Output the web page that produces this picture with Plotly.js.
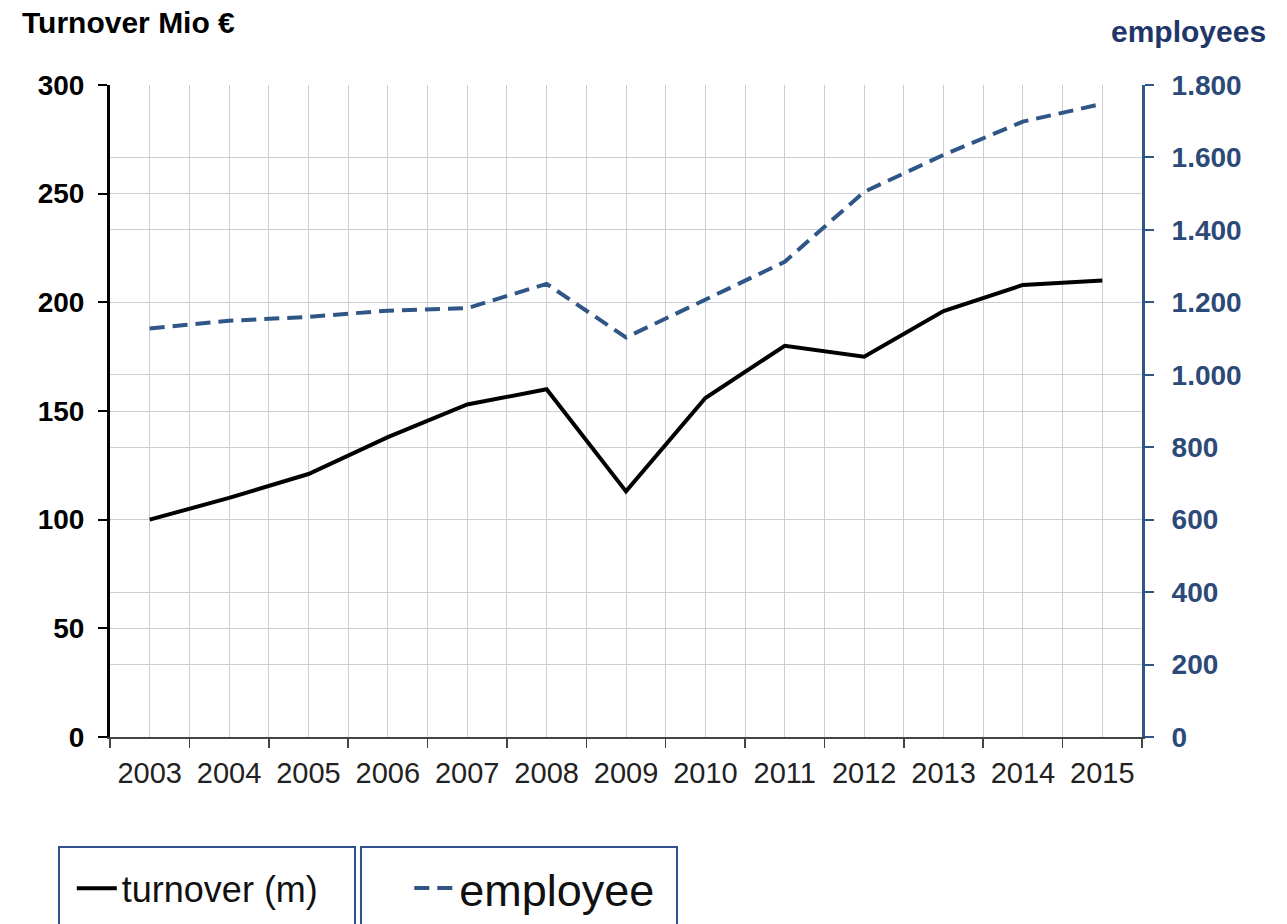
<!DOCTYPE html>
<html>
<head>
<meta charset="utf-8">
<script src="https://cdn.plot.ly/plotly-3.0.1.min.js"></script>
<style>html,body{margin:0;padding:0;background:#fff;}#chart{width:1287px;height:924px;}</style>
</head>
<body>
<div id="chart"></div>
<script>
const years = [2003,2004,2005,2006,2007,2008,2009,2010,2011,2012,2013,2014,2015];
const turnover = [100,110,121,138,153,160,113,156,180,175,196,208,210];
const employees = [1128,1149,1160,1177,1184,1251,1103,1206,1312,1505,1607,1699,1748];
const leftTicks = [0,50,100,150,200,250,300];
const rightTicks = [0,200,400,600,800,1000,1200,1400,1600,1800];

const navy = '#2c4a78';
const lineBlue = '#2f5687';
const gridCol = '#cdcdd6';
const font = 'Liberation Sans, Arial, sans-serif';

const traces = [
  {x: years, y: turnover, type: 'scatter', mode: 'lines', name: 'turnover (m)',
   line: {color: '#000', width: 4}, legend: 'legend', yaxis: 'y'},
  {x: years, y: employees, type: 'scatter', mode: 'lines', name: 'employee',
   line: {color: lineBlue, width: 4, dash: '15px,8px'}, legend: 'legend2', yaxis: 'y2'}
];

const layout = {
  width: 1287, height: 924,
  margin: {l: 110, r: 145, t: 85, b: 187, autoexpand: false},
  paper_bgcolor: '#fff', plot_bgcolor: '#fff',
  separators: ',.',
  font: {family: font, color: '#000'},
  showlegend: true,
  xaxis: {
    range: [2002.5, 2015.5], tickvals: years, ticktext: years.map(String),
    ticks: '', showgrid: true, gridcolor: gridCol, gridwidth: 1,
    showline: true, linecolor: '#444', linewidth: 1.5,
    tickfont: {family: font, size: 29, color: '#222'},
    ticklabelstandoff: 10,
    minor: {tick0: 2002.5, dtick: 1, ticks: 'outside', ticklen: 9, tickwidth: 1.5, tickcolor: '#444', showgrid: true, gridcolor: gridCol, gridwidth: 1},
    zeroline: false, fixedrange: true
  },
  yaxis: {
    range: [0, 300], tickvals: leftTicks, ticks: 'outside', ticklen: 9, tickwidth: 2, tickcolor: '#000',
    showline: true, linecolor: '#000', linewidth: 3,
    showgrid: true, gridcolor: gridCol, gridwidth: 1, zeroline: false,
    tickfont: {family: font, size: 28, color: '#000', weight: 'bold'},
    ticklabelstandoff: 8
  },
  yaxis2: {
    range: [0, 1800], tickvals: rightTicks, tickformat: ',d', overlaying: 'y', side: 'right',
    ticks: 'outside', ticklen: 9, tickwidth: 2, tickcolor: lineBlue,
    showline: true, linecolor: lineBlue, linewidth: 3,
    showgrid: true, gridcolor: gridCol, gridwidth: 1, zeroline: false,
    tickfont: {family: font, size: 28, color: navy, weight: 'bold'},
    ticklabelstandoff: 12
  },
  legend: {x: -0.037, y: -0.232, xanchor: 'left', yanchor: 'middle', bgcolor: 'rgba(0,0,0,0)',
    borderwidth: 0, font: {family: font, size: 36, color: '#111'}, itemwidth: 40},
  legend2: {x: 0.29, y: -0.232, xanchor: 'left', yanchor: 'middle', bgcolor: 'rgba(0,0,0,0)',
    borderwidth: 0, font: {family: font, size: 45, color: '#111'}, itemwidth: 40},
  shapes: [
    {type: 'rect', xref: 'paper', yref: 'paper', x0: -0.0494, x1: 0.2374, y0: -0.3, y1: -0.1687,
     line: {color: '#2f4f8f', width: 2}},
    {type: 'rect', xref: 'paper', yref: 'paper', x0: 0.2432, x1: 0.5494, y0: -0.3, y1: -0.1687,
     line: {color: '#2f4f8f', width: 2}}
  ],
  annotations: [
    {text: '<b>Turnover Mio €</b>', xref: 'paper', yref: 'paper', x: -0.0872, y: 1.0966,
     xanchor: 'left', yanchor: 'middle', showarrow: false, font: {family: font, size: 30, color: '#000'}},
    {text: '<b>employees</b>', xref: 'paper', yref: 'paper', x: 1.1221, y: 1.0813,
     xanchor: 'right', yanchor: 'middle', showarrow: false, font: {family: font, size: 30, color: '#1f3668'}}
  ]
};

Plotly.newPlot('chart', traces, layout, {displayModeBar: false, staticPlot: true});
</script>
</body>
</html>
